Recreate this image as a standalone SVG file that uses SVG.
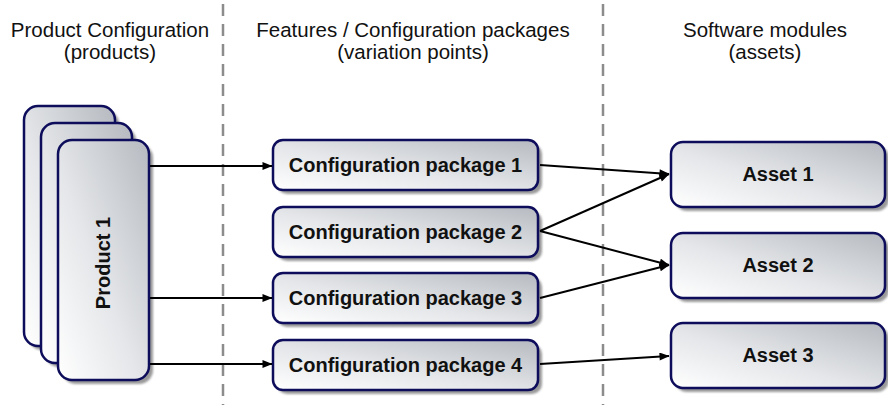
<svg xmlns="http://www.w3.org/2000/svg" width="888" height="405" viewBox="0 0 888 405">
  <defs>
    <linearGradient id="boxFill" x1="0" y1="1" x2="1" y2="0">
      <stop offset="0" stop-color="#ffffff"/>
      <stop offset="0.45" stop-color="#e4e6e9"/>
      <stop offset="1" stop-color="#b6bac0"/>
    </linearGradient>
    <filter id="soft" x="-10%" y="-10%" width="130%" height="130%">
      <feGaussianBlur stdDeviation="1.2"/>
    </filter>
    <marker id="arrow" viewBox="0 0 10 8" refX="9.5" refY="4" markerWidth="11" markerHeight="8" markerUnits="userSpaceOnUse" orient="auto">
      <path d="M0,0 L10,4 L0,8 Z" fill="#000"/>
    </marker>
    <style>
      .hdr { font-family: "Liberation Sans", Arial, sans-serif; font-size: 20.5px; fill: #111; text-anchor: middle; }
      .lbl { font-family: "Liberation Sans", Arial, sans-serif; font-size: 20px; font-weight: bold; fill: #111; text-anchor: middle; }
      .box { fill: url(#boxFill); stroke: #0d0d5c; stroke-width: 2.5; }
      .shadow { fill: #808080; opacity: 0.8; filter: url(#soft); }
      .divider { stroke: #8c8c8c; stroke-width: 2.5; stroke-dasharray: 12 8; fill: none; }
      .link { stroke: #000; stroke-width: 2; fill: none; marker-end: url(#arrow); }
    </style>
  </defs>

  <rect width="888" height="405" fill="#fff"/>

  <!-- column dividers -->
  <g id="dividers">
    <line class="divider" x1="223" y1="4" x2="223" y2="405"/>
    <line class="divider" x1="603" y1="4" x2="603" y2="405"/>
  </g>

  <!-- column headings -->
  <g id="headings">
    <text class="hdr" x="110" y="37">Product Configuration</text>
    <text class="hdr" x="110" y="59">(products)</text>
    <text class="hdr" x="413" y="37">Features / Configuration packages</text>
    <text class="hdr" x="413" y="59">(variation points)</text>
    <text class="hdr" x="765" y="37">Software modules</text>
    <text class="hdr" x="765" y="59">(assets)</text>
  </g>

  <!-- stacked product cards -->
  <g id="product-back">
    <rect class="shadow" x="28" y="110" width="91" height="240" rx="14"/>
    <rect class="box" x="24" y="106" width="91" height="240" rx="14"/>
  </g>
  <g id="product-middle">
    <rect class="shadow" x="45" y="127" width="91" height="240" rx="14"/>
    <rect class="box" x="41" y="123" width="91" height="240" rx="14"/>
  </g>
  <g id="product-1">
    <rect class="shadow" x="62" y="144" width="91" height="240" rx="14"/>
    <rect class="box" x="58" y="140" width="91" height="240" rx="14"/>
    <text class="lbl" transform="translate(110,263) rotate(-90)">Product 1</text>
  </g>

  <!-- configuration packages -->
  <g id="package-1">
    <rect class="shadow" x="277" y="144" width="265" height="50" rx="10"/>
    <rect class="box" x="273" y="140" width="265" height="50" rx="10"/>
    <text class="lbl" x="405.5" y="172">Configuration package 1</text>
  </g>
  <g id="package-2">
    <rect class="shadow" x="277" y="211" width="265" height="50" rx="10"/>
    <rect class="box" x="273" y="207" width="265" height="50" rx="10"/>
    <text class="lbl" x="405.5" y="239">Configuration package 2</text>
  </g>
  <g id="package-3">
    <rect class="shadow" x="277" y="277" width="265" height="50" rx="10"/>
    <rect class="box" x="273" y="273" width="265" height="50" rx="10"/>
    <text class="lbl" x="405.5" y="305">Configuration package 3</text>
  </g>
  <g id="package-4">
    <rect class="shadow" x="277" y="344" width="265" height="50" rx="10"/>
    <rect class="box" x="273" y="340" width="265" height="50" rx="10"/>
    <text class="lbl" x="405.5" y="372">Configuration package 4</text>
  </g>

  <!-- software assets -->
  <g id="asset-1">
    <rect class="shadow" x="675" y="146" width="214" height="65" rx="12"/>
    <rect class="box" x="671" y="142" width="214" height="65" rx="12"/>
    <text class="lbl" x="778" y="181">Asset 1</text>
  </g>
  <g id="asset-2">
    <rect class="shadow" x="675" y="237" width="214" height="65" rx="12"/>
    <rect class="box" x="671" y="233" width="214" height="65" rx="12"/>
    <text class="lbl" x="778" y="272">Asset 2</text>
  </g>
  <g id="asset-3">
    <rect class="shadow" x="675" y="327" width="214" height="65" rx="12"/>
    <rect class="box" x="671" y="323" width="214" height="65" rx="12"/>
    <text class="lbl" x="778" y="362">Asset 3</text>
  </g>

  <!-- connectors -->
  <g id="connectors">
    <line class="link" x1="150" y1="166" x2="272" y2="166"/>
    <line class="link" x1="150" y1="298" x2="272" y2="298"/>
    <line class="link" x1="150" y1="364" x2="272" y2="364"/>
    <line class="link" x1="540" y1="165" x2="669" y2="174"/>
    <line class="link" x1="540" y1="231" x2="669" y2="174"/>
    <line class="link" x1="540" y1="231" x2="669" y2="265"/>
    <line class="link" x1="540" y1="298" x2="669" y2="265"/>
    <line class="link" x1="540" y1="364" x2="669" y2="356"/>
  </g>
</svg>
